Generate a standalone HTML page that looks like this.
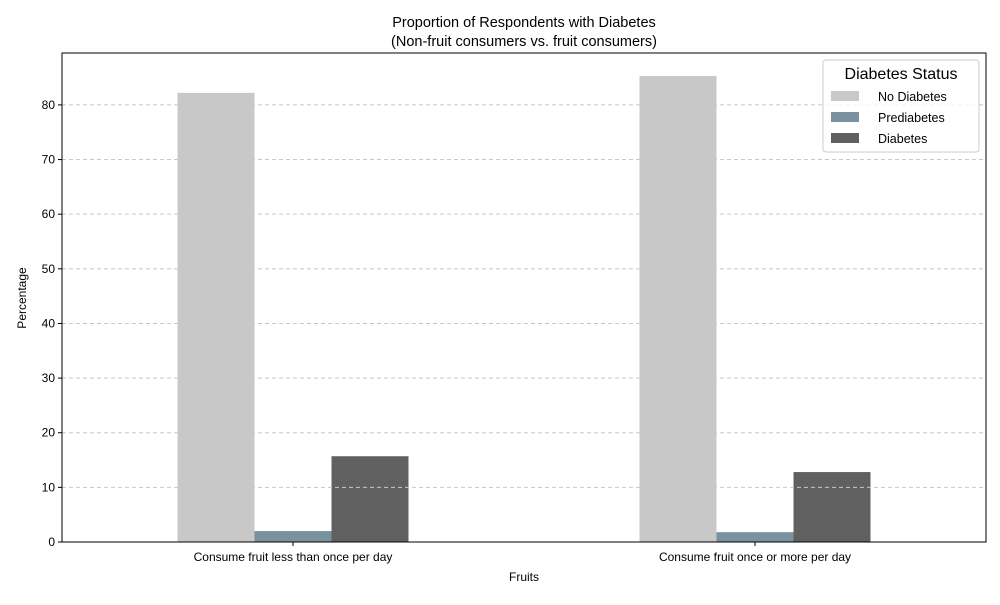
<!DOCTYPE html>
<html><head><meta charset="utf-8"><style>
body{margin:0;background:#fff;font-family:"Liberation Sans","DejaVu Sans",sans-serif}
</style></head><body>
<svg id="chart" width="1000" height="600" xmlns="http://www.w3.org/2000/svg"></svg>
<script>
const categories=["Consume fruit less than once per day","Consume fruit once or more per day"];
const seriesNames=["No Diabetes","Prediabetes","Diabetes"];
const noDiabetes=[82.2,85.3];
const prediabetes=[2.0,1.8];
const diabetes=[15.7,12.8];
const yTicks=[0,10,20,30,40,50,60,70,80];
const colors=["#c8c8c8","#7a929f","#606060"];
const series=[noDiabetes,prediabetes,diabetes];
const L=62,R=986,T=53,B=542,yMax=89.5;
const NS="http://www.w3.org/2000/svg";
const svg=document.getElementById('chart');
const y=v=>B-(B-T)*v/yMax;
const x=v=>L+(R-L)*(v+0.5)/2;
function el(t,a,txt){const e=document.createElementNS(NS,t);for(const k in a)e.setAttribute(k,a[k]);if(txt!==undefined)e.textContent=txt;svg.appendChild(e);return e;}
const bw=(R-L)/2/6;
categories.forEach((c,i)=>{
 series.forEach((s,j)=>{
  const cx=x(i)+(j-1)*bw;
  const r=el('rect',{x:cx-bw/2,y:y(s[i]),width:bw,height:B-y(s[i]),fill:colors[j]});
  
  
 });
 const tk=el('line',{x1:x(i),x2:x(i),y1:B,y2:B+4,stroke:"#000"});
 
 
 const lb=el('text',{x:x(i),y:B+19,"text-anchor":"middle","font-size":12},c);
 
 
});
yTicks.forEach(t=>{
 const g=el('line',{x1:L,x2:R,y1:y(t),y2:y(t),stroke:"#c8c8c8","stroke-dasharray":"4,3","stroke-width":1});
 
 
 const tk=el('line',{x1:L-4,x2:L,y1:y(t),y2:y(t),stroke:"#000"});
 
 
 const lb=el('text',{x:L-7,y:y(t)+4,"text-anchor":"end","font-size":12},String(t));
 
 
});
const fr=el('rect',{x:L,y:T,width:R-L,height:B-T,fill:"none",stroke:"#000"});


let t1=el('text',{x:524,y:27,"text-anchor":"middle","font-size":14.5},"Proportion of Respondents with Diabetes");


let t2=el('text',{x:524,y:46,"text-anchor":"middle","font-size":14.5},"(Non-fruit consumers vs. fruit consumers)");


let xt=el('text',{x:524,y:581,"text-anchor":"middle","font-size":12},"Fruits");


let yt=el('text',{x:26,y:298,"text-anchor":"middle","font-size":12,transform:"rotate(-90 26 298)"},"Percentage");


const lg=el('rect',{x:823,y:60,width:156,height:92,rx:3,fill:"#fff",stroke:"#ccc","fill-opacity":0.8});


let lt=el('text',{x:901,y:79,"text-anchor":"middle","font-size":16},"Diabetes Status");


seriesNames.forEach((n,j)=>{
 const yy=96+j*21;
 const sw=el('rect',{x:831,y:yy-5,width:28,height:10,fill:colors[j]});
 
 
 const tx=el('text',{x:878,y:yy+5,"font-size":12.5},n);
 
 
});
</script>
</body></html>
